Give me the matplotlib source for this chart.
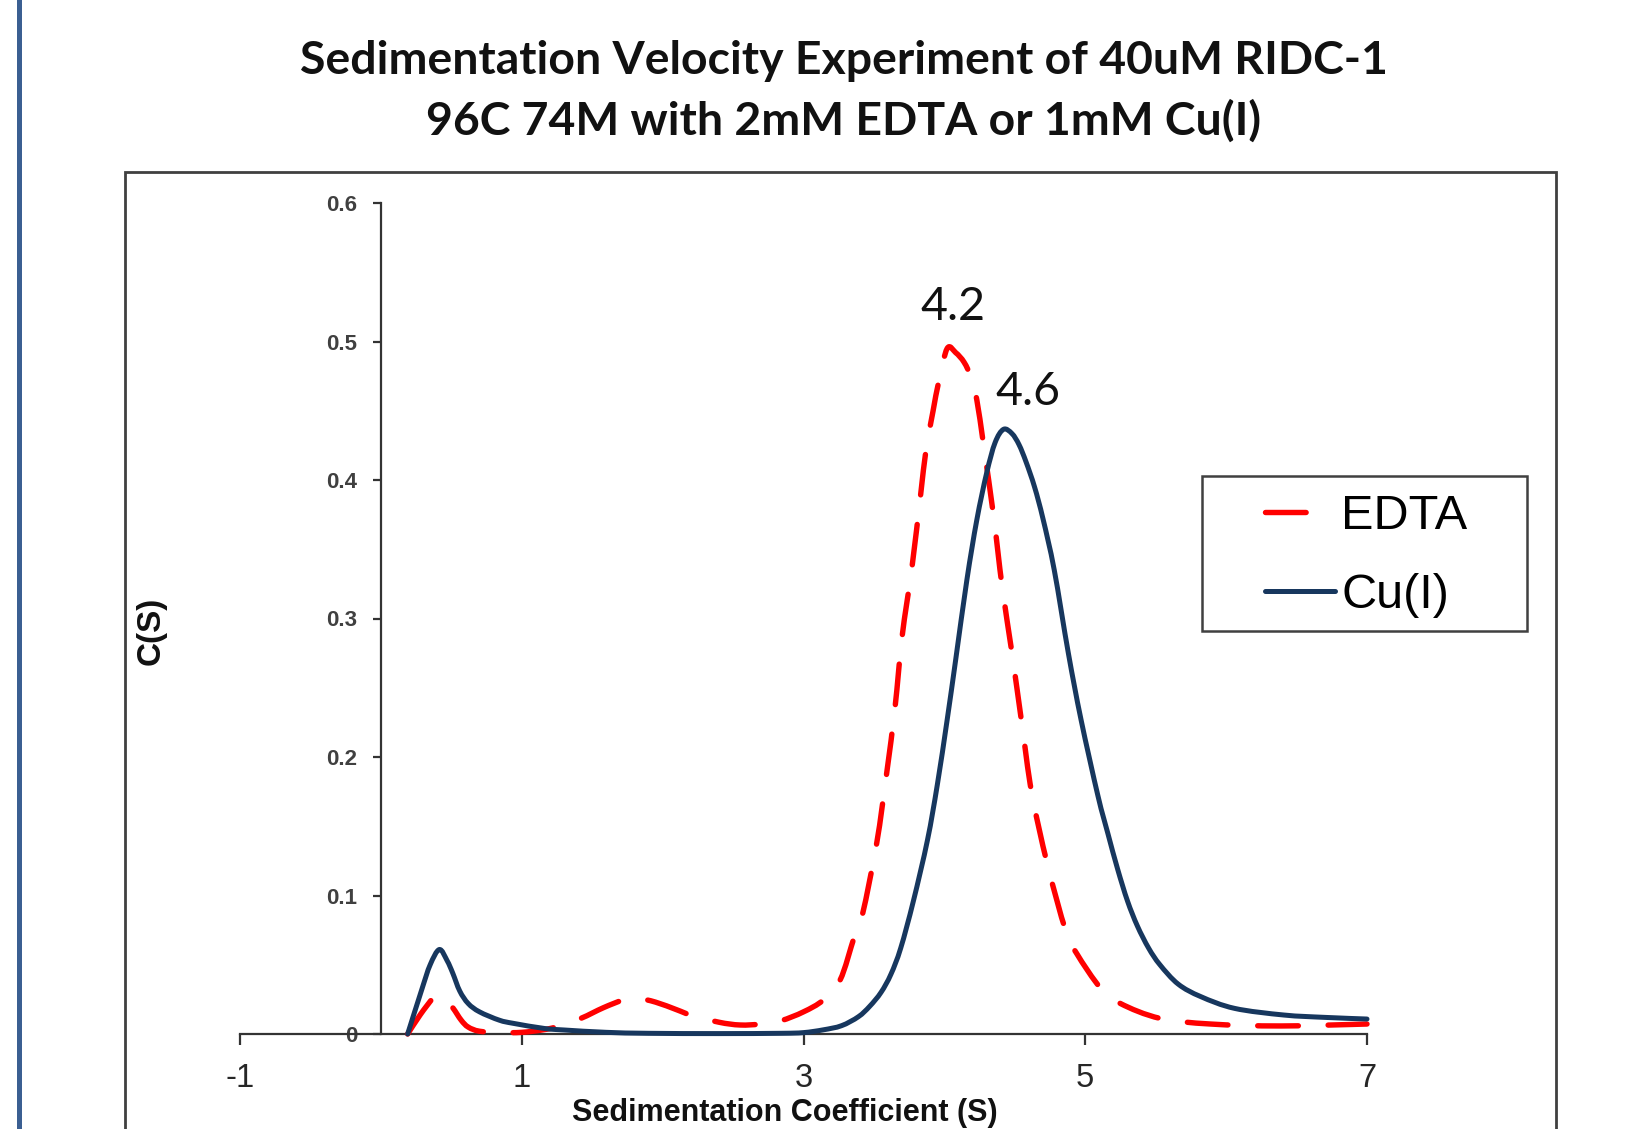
import matplotlib
matplotlib.use("Agg")
import matplotlib.pyplot as plt
from matplotlib.patches import Rectangle, PathPatch
from matplotlib.path import Path
from matplotlib.lines import Line2D

# ---------------- data ----------------
cu_x = [0.19, 0.29, 0.35, 0.415, 0.47, 0.51, 0.56, 0.62, 0.70, 0.84, 0.94, 1.16, 1.30,
        1.60, 1.90, 2.40, 2.84, 3.00, 3.14, 3.27, 3.39, 3.47, 3.55, 3.62, 3.69, 3.78,
        3.88, 3.95, 4.02, 4.08, 4.16, 4.23, 4.30, 4.36, 4.42, 4.48, 4.53, 4.58, 4.64,
        4.70, 4.78, 4.88, 4.97, 5.09, 5.16, 5.23, 5.30, 5.37, 5.45, 5.53, 5.66, 5.82,
        6.06, 6.41, 6.70, 7.00]
cu_y = [0.0, 0.032, 0.050, 0.061, 0.053, 0.044, 0.031, 0.022, 0.016, 0.010, 0.0077,
        0.004, 0.0029, 0.0012, 0.0005, 0.0003, 0.0005, 0.001, 0.003, 0.006, 0.0125,
        0.020, 0.030, 0.043, 0.062, 0.096, 0.140, 0.180, 0.227, 0.27, 0.328, 0.371,
        0.405, 0.427, 0.4366, 0.4335, 0.4255, 0.413, 0.395, 0.372, 0.335, 0.275,
        0.227, 0.172, 0.145, 0.119, 0.096, 0.078, 0.062, 0.050, 0.036, 0.027, 0.0185,
        0.0137, 0.012, 0.0108]

edta_x = [0.19, 0.28, 0.37, 0.40, 0.45, 0.51, 0.57, 0.62, 0.70, 0.85, 1.00, 1.15, 1.25,
          1.42, 1.58, 1.72, 1.82, 1.95, 2.10, 2.20, 2.40, 2.55, 2.70, 2.84, 3.00, 3.14,
          3.26, 3.36, 3.42, 3.52, 3.59, 3.65, 3.70, 3.77, 3.83, 3.87, 3.92, 3.96, 4.02,
          4.08, 4.14, 4.19, 4.23, 4.28, 4.35, 4.41, 4.48, 4.55, 4.62, 4.73, 4.86, 4.94,
          5.11, 5.25, 5.53, 5.89, 6.39, 7.00]
edta_y = [0.0, 0.014, 0.026, 0.028, 0.026, 0.019, 0.010, 0.005, 0.002, 0.001, 0.0012,
          0.003, 0.0053, 0.0113, 0.019, 0.0245, 0.0258, 0.023, 0.0175, 0.0137, 0.0085,
          0.0065, 0.0072, 0.0096, 0.016, 0.0245, 0.039, 0.070, 0.087, 0.138, 0.188,
          0.236, 0.287, 0.337, 0.388, 0.422, 0.45, 0.471, 0.495, 0.492, 0.485, 0.474,
          0.458, 0.424, 0.3735, 0.323, 0.275, 0.224, 0.174, 0.123, 0.075, 0.058, 0.033,
          0.022, 0.0113, 0.0072, 0.0058, 0.0072]

series_labels = ["EDTA", "Cu(I)"]
x_ticks = [-1, 1, 3, 5, 7]
y_ticks = [0, 0.1, 0.2, 0.3, 0.4, 0.5, 0.6]
peak_labels = ["4.2", "4.6"]
peak_label_pos = [(4.064, 0.525), (4.59, 0.4635)]

title_lines = ["Sedimentation Velocity Experiment of 40uM RIDC-1",
               "96C 74M with 2mM EDTA or 1mM Cu(I)"]
x_label = "Sedimentation Coefficient (S)"
y_label = "C(S)"


def smoothed_path(xs, ys):
    """Excel-style 'smoothed line': Bezier segments through the given points."""
    pts = list(zip(xs, ys))
    n = len(pts)
    verts = [pts[0]]
    codes = [Path.MOVETO]
    for i in range(n - 1):
        p0 = pts[i - 1] if i > 0 else pts[i]
        p1 = pts[i]
        p2 = pts[i + 1]
        p3 = pts[i + 2] if i + 2 < n else pts[i + 1]
        c1 = (p1[0] + (p2[0] - p0[0]) / 6.0, p1[1] + (p2[1] - p0[1]) / 6.0)
        c2 = (p2[0] - (p3[0] - p1[0]) / 6.0, p2[1] - (p3[1] - p1[1]) / 6.0)
        verts += [c1, c2, p2]
        codes += [Path.CURVE4] * 3
    return Path(verts, codes)


# ---------------- figure ----------------
W, H = 1630, 1129
fig = plt.figure(figsize=(W / 100, H / 100), dpi=100)
fig.patch.set_facecolor("white")


def fx(px):
    return px / W


def fy(py):
    return 1 - py / H


# left decorative blue bar
fig.add_artist(Rectangle((fx(17), 0), 4.5 / W, 1, transform=fig.transFigure,
                         facecolor="#3b5f92", edgecolor="none"))
# chart outer frame (extends below the visible area)
fig.add_artist(Rectangle((fx(125), fy(1200)), (1556 - 125) / W, (1200 - 172) / H,
                         transform=fig.transFigure, facecolor="none",
                         edgecolor="#404040", linewidth=2.0, clip_on=False))

ax = fig.add_axes([fx(240), fy(1034), (1367 - 240) / W, (1034 - 203) / H])
ax.set_facecolor("none")
ax.set_xlim(-1, 7)
ax.set_ylim(0, 0.6)

for s in ["top", "right"]:
    ax.spines[s].set_visible(False)
ax.spines["left"].set_position(("data", 0))
ax.spines["bottom"].set_position(("data", 0))
for s in ["left", "bottom"]:
    ax.spines[s].set_linewidth(1.6)
    ax.spines[s].set_color("#333333")

ax.set_xticks(x_ticks)
ax.set_xticklabels([str(t) for t in x_ticks])
ax.set_yticks(y_ticks)
ax.set_yticklabels(["0" if t == 0 else f"{t:.1f}" for t in y_ticks])

ax.tick_params(axis="x", direction="out", length=8, width=1.6, color="#333333",
               pad=13, labelsize=23.5, labelcolor="#262626")
ax.tick_params(axis="y", direction="out", length=6, width=1.6, color="#333333",
               pad=11, labelsize=16, labelcolor="#404040")
for lab in ax.get_xticklabels():
    lab.set_fontfamily("Liberation Sans")
for lab in ax.get_yticklabels():
    lab.set_fontfamily("Liberation Sans")
    lab.set_fontweight("bold")

red = "#ff0000"
navy = "#17375e"
edta_patch = PathPatch(smoothed_path(edta_x, edta_y), facecolor="none", edgecolor=red,
                       linewidth=3.9, linestyle=(0, (7.5, 5.5)), capstyle="round",
                       joinstyle="round", clip_on=False, zorder=4,
                       transform=ax.transData)
cu_patch = PathPatch(smoothed_path(cu_x, cu_y), facecolor="none", edgecolor=navy,
                     linewidth=3.6, capstyle="round", joinstyle="round",
                     clip_on=False, zorder=5, transform=ax.transData)
ax.add_patch(edta_patch)
ax.add_patch(cu_patch)

h_edta = Line2D([], [], color=red, linewidth=3.9, dash_capstyle="round")
h_edta.set_dashes([7.5, 5.5])
h_cu = Line2D([], [], color=navy, linewidth=3.6, solid_capstyle="round")

for txt, (px, py) in zip(peak_labels, peak_label_pos):
    ax.text(px, py, txt, ha="center", va="center", fontsize=33.5, family="Lato",
            color="#111111")

# titles
fig.text(fx(844), fy(61), title_lines[0], ha="center", va="center", fontsize=33.4,
         family="Lato", fontweight="bold", color="#111111")
fig.text(fx(844), fy(121), title_lines[1], ha="center", va="center", fontsize=33.4,
         family="Lato", fontweight="bold", color="#111111")

# axis labels
fig.text(fx(785), fy(1113), x_label, ha="center", va="center", fontsize=22,
         family="Liberation Sans", fontweight="bold", color="#111111")
fig.text(fx(151), fy(631), y_label, ha="center", va="center", fontsize=24,
         family="Liberation Sans", fontweight="bold", rotation=90, color="#111111")

# legend (frame drawn separately)
fig.add_artist(Rectangle((fx(1202), fy(631)), (1527 - 1202) / W, (631 - 476) / H,
                         transform=fig.transFigure, facecolor="white",
                         edgecolor="#404040", linewidth=1.8, zorder=6))
leg = fig.legend(handles=[h_edta, h_cu], labels=series_labels,
                 loc="center left", bbox_to_anchor=(fx(1265), fy(556)),
                 frameon=False, prop={"family": "Liberation Sans", "size": 35},
                 handlelength=1.45, handletextpad=0.12, borderpad=0.0,
                 labelspacing=0.7, borderaxespad=0.0)
leg.set_zorder(7)

fig.savefig("out.png", dpi=100, facecolor="white")
